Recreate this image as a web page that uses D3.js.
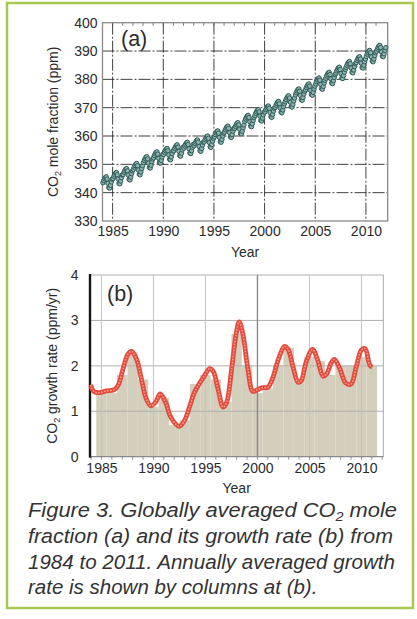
<!DOCTYPE html>
<html><head><meta charset="utf-8">
<script src="https://cdn.jsdelivr.net/npm/d3@7"></script>
<style>
html,body{margin:0;padding:0;background:#fff;}
svg{display:block;font-family:"Liberation Sans",Arial,Helvetica,sans-serif;}
</style></head>
<body><svg id="c" width="417" height="619"></svg>
<script>
// ---------- Panel (a): monthly global CO2 mole fraction (ppm) ----------
const co2Years = [1984,1985,1986,1987,1988,1989,1990,1991,1992,1993,1994,1995,1996,1997,
  1998,1999,2000,2001,2002,2003,2004,2005,2006,2007,2008,2009,2010,2011];
const co2Monthly = [
  [343.5,344.3,344.9,345.4,345.6,344.8,343.3,341.8,341.6,342.6,343.8,344.8],
  [345.0,345.8,346.4,346.9,347.1,346.3,344.8,343.3,343.1,344.1,345.3,346.3],
  [346.4,347.2,347.8,348.3,348.5,347.7,346.2,344.7,344.5,345.5,346.7,347.7],
  [348.2,349.0,349.6,350.1,350.3,349.5,348.0,346.5,346.3,347.3,348.5,349.5],
  [350.6,351.4,352.0,352.5,352.7,351.9,350.4,348.9,348.7,349.7,350.9,351.9],
  [352.3,353.1,353.7,354.2,354.4,353.6,352.1,350.6,350.4,351.4,352.6,353.6],
  [353.5,354.3,354.9,355.4,355.6,354.8,353.3,351.8,351.6,352.6,353.8,354.8],
  [354.8,355.6,356.2,356.7,356.9,356.1,354.6,353.1,352.9,353.9,355.1,356.1],
  [355.7,356.5,357.1,357.6,357.8,357.0,355.5,354.0,353.8,354.8,356.0,357.0],
  [356.5,357.3,357.9,358.4,358.6,357.8,356.3,354.8,354.6,355.6,356.8,357.8],
  [357.9,358.7,359.3,359.8,360.0,359.2,357.7,356.2,356.0,357.0,358.2,359.2],
  [359.7,360.5,361.1,361.6,361.8,361.0,359.5,358.0,357.8,358.8,360.0,361.0],
  [361.4,362.2,362.8,363.3,363.5,362.7,361.2,359.7,359.5,360.5,361.7,362.7],
  [362.6,363.4,364.0,364.5,364.7,363.9,362.4,360.9,360.7,361.7,362.9,363.9],
  [365.2,366.0,366.6,367.1,367.3,366.5,365.0,363.5,363.3,364.3,365.5,366.5],
  [367.2,368.0,368.6,369.1,369.3,368.5,367.0,365.5,365.3,366.3,367.5,368.5],
  [368.5,369.3,369.9,370.4,370.6,369.8,368.3,366.8,366.6,367.6,368.8,369.8],
  [370.1,370.9,371.5,372.0,372.2,371.4,369.9,368.4,368.2,369.2,370.4,371.4],
  [372.1,372.9,373.5,374.0,374.2,373.4,371.9,370.4,370.2,371.2,372.4,373.4],
  [374.5,375.3,375.9,376.4,376.6,375.8,374.3,372.8,372.6,373.6,374.8,375.8],
  [376.3,377.1,377.7,378.2,378.4,377.6,376.1,374.6,374.4,375.4,376.6,377.6],
  [378.4,379.2,379.8,380.3,380.5,379.7,378.2,376.7,376.5,377.5,378.7,379.7],
  [380.4,381.2,381.8,382.3,382.5,381.7,380.2,378.7,378.5,379.5,380.7,381.7],
  [382.2,383.0,383.6,384.1,384.3,383.5,382.0,380.5,380.3,381.3,382.5,383.5],
  [384.2,385.0,385.6,386.1,386.3,385.5,384.0,382.5,382.3,383.3,384.5,385.5],
  [385.9,386.7,387.3,387.8,388.0,387.2,385.7,384.2,384.0,385.0,386.2,387.2],
  [388.1,388.9,389.5,390.0,390.2,389.4,387.9,386.4,386.2,387.2,388.4,389.4],
  [389.9,390.7,391.3,391.8,392.0,391.2,389.7,388.2,388.0,389.0,390.2,391.2]
];
const aYTicks = [330,340,350,360,370,380,390,400];
const aXTicks = [1985,1990,1995,2000,2005,2010];

// ---------- Panel (b): growth rate (ppm/yr) ----------
const barYears  = [1985,1986,1987,1988,1989,1990,1991,1992,1993,1994,1995,1996,1997,1998,
  1999,2000,2001,2002,2003,2004,2005,2006,2007,2008,2009,2010,2011];
const barValues = [1.4,1.4,1.8,2.3,1.7,1.1,1.3,0.7,0.8,1.6,1.8,1.7,1.2,2.7,
  2.0,1.4,1.5,2.0,2.4,1.7,2.2,2.1,1.8,2.0,2.0,2.2,2.0];
const rateTimes = [1983.95,1984.3,1984.8,1985.5,1986.2,1986.6,1987.1,1987.55,1987.9,1988.4,
  1988.85,1989.3,1989.75,1990.2,1990.65,1991.2,1991.6,1992.05,1992.5,1993.0,1993.5,1993.95,
  1994.45,1994.9,1995.4,1995.75,1996.2,1996.7,1997.05,1997.5,1997.95,1998.25,1998.6,1999.1,
  1999.55,2000.05,2000.5,2001.0,2001.5,2001.95,2002.6,2002.95,2003.4,2003.9,2004.2,2004.7,
  2005.3,2005.8,2006.3,2006.65,2007.1,2007.4,2007.9,2008.5,2009.0,2009.5,2010.0,2010.35,
  2010.8,2011.05];
const rateValues = [1.58,1.43,1.41,1.45,1.47,1.57,1.95,2.26,2.32,2.13,
  1.7,1.28,1.12,1.2,1.38,1.18,0.9,0.74,0.67,0.8,1.12,1.42,
  1.62,1.78,1.94,1.88,1.5,1.09,1.2,1.9,2.7,2.97,2.7,1.9,
  1.44,1.48,1.52,1.53,1.75,2.1,2.43,2.36,2.0,1.64,1.67,2.1,
  2.36,2.12,1.77,1.82,2.07,2.14,1.95,1.62,1.6,1.98,2.35,2.38,
  2.02,1.97];
const bYTicks = [0,1,2,3,4];
const bXTicks = [1985,1990,1995,2000,2005,2010];

const captionLines = [
  ["Figure 3. Globally averaged CO","2"," mole"],
  ["fraction (a) and its growth rate (b) from"],
  ["1984 to 2011. Annually averaged growth"],
  ["rate is shown by columns at (b)."]
];

const svg = d3.select("#c");
const txt = "#2b2b2b";

svg.append("rect").attr("x",7).attr("y",3).attr("width",406).attr("height",605)
  .attr("fill","#fff").attr("stroke","#a9c852").attr("stroke-width",2.5);

// ================= Panel (a) =================
const aL=102.5, aR=387.7, aT=22.7, aB=221;
const xA = d3.scaleLinear().domain([1984,2012.15]).range([aL,aR]);
const yA = d3.scaleLinear().domain([330,400]).range([aB,aT]);
const gA = svg.append("g");

gA.selectAll("line.hg").data(aYTicks.filter(v=>v>330&&v<400)).join("line")
  .attr("x1",aL).attr("x2",aR).attr("y1",d=>yA(d)).attr("y2",d=>yA(d))
  .attr("stroke","#2a2a2a").attr("stroke-width",0.9).attr("stroke-dasharray","12,2,2,2");
gA.selectAll("line.vg").data(aXTicks).join("line")
  .attr("x1",d=>xA(d)).attr("x2",d=>xA(d)).attr("y1",aT).attr("y2",aB)
  .attr("stroke","#2a2a2a").attr("stroke-width",0.9).attr("stroke-dasharray","12,2,2,2");

gA.selectAll("line.mt").data(d3.range(1984,2012)).join("line")
  .attr("x1",d=>xA(d)).attr("x2",d=>xA(d)).attr("y1",aT).attr("y2",aT+3)
  .attr("stroke","#555").attr("stroke-width",0.8);

gA.append("rect").attr("x",aL).attr("y",aT).attr("width",aR-aL).attr("height",aB-aT)
  .attr("fill","none").attr("stroke","#8a8a8a").attr("stroke-width",1.3);

const monthly = [];
co2Years.forEach((y,i)=>co2Monthly[i].forEach((v,m)=>monthly.push({t:y+(m+0.5)/12, v})));
gA.append("path").datum(monthly)
  .attr("d", d3.line().x(d=>xA(d.t)).y(d=>yA(d.v)).curve(d3.curveMonotoneX))
  .attr("fill","none").attr("stroke","#2f5c5a").attr("stroke-width",1.4);
gA.selectAll("circle.pt").data(monthly).join("circle")
  .attr("cx",d=>xA(d.t)).attr("cy",d=>yA(d.v)).attr("r",2.2)
  .attr("fill","#8fb3ad").attr("stroke","#2f5c5a").attr("stroke-width",1);

const axA_y = d3.axisLeft(yA).tickValues(aYTicks).tickSize(0).tickPadding(5).tickFormat(d3.format("d"));
gA.append("g").attr("transform",`translate(${aL},0)`).call(axA_y)
  .call(g=>{g.select(".domain").remove(); g.selectAll("text").attr("font-size",14).attr("fill",txt).attr("font-family",null);});
const axA_x = d3.axisBottom(xA).tickValues(aXTicks).tickSize(0).tickPadding(5).tickFormat(d3.format("d"));
gA.append("g").attr("transform",`translate(0,${aB})`).call(axA_x)
  .call(g=>{g.select(".domain").remove(); g.selectAll("text").attr("font-size",14).attr("fill",txt).attr("font-family",null);});

gA.append("text").attr("x",(aL+aR)/2).attr("y",257).attr("text-anchor","middle")
  .attr("font-size",14).attr("fill",txt).text("Year");
const ylabA = gA.append("text").attr("transform",`translate(58,${(aT+aB)/2}) rotate(-90)`)
  .attr("text-anchor","middle").attr("font-size",14).attr("fill",txt);
ylabA.append("tspan").text("CO");
ylabA.append("tspan").attr("font-size",9).attr("dy",3).text("2");
ylabA.append("tspan").attr("dy",-3).text(" mole fraction (ppm)");
gA.append("text").attr("x",121).attr("y",46).attr("font-size",21.5).attr("fill",txt).text("(a)");

// ================= Panel (b) =================
const bL=90, bR=383.3, bT=275, bB=456.7;
const xB = d3.scaleLinear().domain([1983.9,2012.1]).range([bL,bR]);
const yB = d3.scaleLinear().domain([0,4]).range([bB,bT]);
const gB = svg.append("g");

gB.selectAll("rect.bar").data(barYears.map((y,i)=>({y,v:barValues[i]}))).join("rect")
  .attr("x",d=>xB(Math.max(d.y-0.5,1983.9))).attr("width",d=>xB(d.y+0.5)-xB(Math.max(d.y-0.5,1983.9)))
  .attr("y",d=>yB(d.v)).attr("height",d=>yB(0)-yB(d.v))
  .attr("fill","#d3cfbc");

gB.selectAll("line.hg").data(bYTicks.filter(v=>v>0)).join("line")
  .attr("x1",bL).attr("x2",bR).attr("y1",d=>yB(d)).attr("y2",d=>yB(d))
  .attr("stroke","#b0b0b0").attr("stroke-width",1);
gB.selectAll("line.vg").data(bXTicks).join("line")
  .attr("x1",d=>xB(d)).attr("x2",d=>xB(d)).attr("y1",bT).attr("y2",bB)
  .attr("stroke",d=>d===2000?"#8a8a8a":"#c4c4c4").attr("stroke-width",d=>d===2000?1.4:1);
gB.append("line").attr("x1",bR).attr("x2",bR).attr("y1",bT).attr("y2",bB)
  .attr("stroke","#a8a8a8").attr("stroke-width",1);
gB.append("line").attr("x1",bL).attr("x2",bR).attr("y1",bB).attr("y2",bB)
  .attr("stroke","#8a8a8a").attr("stroke-width",1.2);
gB.selectAll("line.mt").data(d3.range(1984,2013)).join("line")
  .attr("x1",d=>xB(d)).attr("x2",d=>xB(d)).attr("y1",bB).attr("y2",bB+3)
  .attr("stroke","#777").attr("stroke-width",0.8);
gB.append("line").attr("x1",bL).attr("x2",bL).attr("y1",bT-1).attr("y2",bB+1)
  .attr("stroke","#151515").attr("stroke-width",2.4);

const rate = rateTimes.map((t,i)=>({t,v:rateValues[i]}));
const lineB = d3.line().x(d=>xB(d.t)).y(d=>yB(d.v)).curve(d3.curveCatmullRom.alpha(0.5));
gB.append("path").datum(rate).attr("d",lineB).attr("fill","none")
  .attr("stroke","#e5493b").attr("stroke-width",4.8).attr("stroke-linejoin","round");
gB.append("path").datum(rate).attr("d",lineB).attr("fill","none")
  .attr("stroke","#f6a496").attr("stroke-width",1.5).attr("stroke-dasharray","1.6,1.4");

const axB_y = d3.axisLeft(yB).tickValues(bYTicks).tickSize(0).tickPadding(11.5).tickFormat(d3.format("d"));
gB.append("g").attr("transform",`translate(${bL},0)`).call(axB_y)
  .call(g=>{g.select(".domain").remove(); g.selectAll("text").attr("font-size",14).attr("fill",txt).attr("font-family",null);});
const axB_x = d3.axisBottom(xB).tickValues(bXTicks).tickSize(0).tickPadding(6).tickFormat(d3.format("d"));
gB.append("g").attr("transform",`translate(0,${bB})`).call(axB_x)
  .call(g=>{g.select(".domain").remove(); g.selectAll("text").attr("font-size",14).attr("fill",txt).attr("font-family",null);});

gB.append("text").attr("x",(bL+bR)/2).attr("y",493).attr("text-anchor","middle")
  .attr("font-size",14).attr("fill",txt).text("Year");
const ylabB = gB.append("text").attr("transform",`translate(57,${(bT+bB)/2}) rotate(-90)`)
  .attr("text-anchor","middle").attr("font-size",14).attr("fill",txt);
ylabB.append("tspan").text("CO");
ylabB.append("tspan").attr("font-size",9).attr("dy",3).text("2");
ylabB.append("tspan").attr("dy",-3).text(" growth rate (ppm/yr)");
gB.append("text").attr("x",107).attr("y",301).attr("font-size",21.5).attr("fill",txt).text("(b)");

// ================= Caption =================
const capY = [517, 543, 568.5, 594];
const capW = [369, 365, 367, null];
captionLines.forEach((parts,i)=>{
  const t = svg.append("text").attr("x",28).attr("y",capY[i])
    .attr("font-size",20.5).attr("font-style","italic").attr("fill","#333");
  if (capW[i]) t.attr("textLength",capW[i]).attr("lengthAdjust","spacingAndGlyphs");
  if (parts.length===3){
    t.append("tspan").text(parts[0]);
    t.append("tspan").attr("font-size",13.5).attr("dy",4).text(parts[1]);
    t.append("tspan").attr("dy",-4).text(parts[2]);
  } else t.text(parts[0]);
});
</script></body></html>
